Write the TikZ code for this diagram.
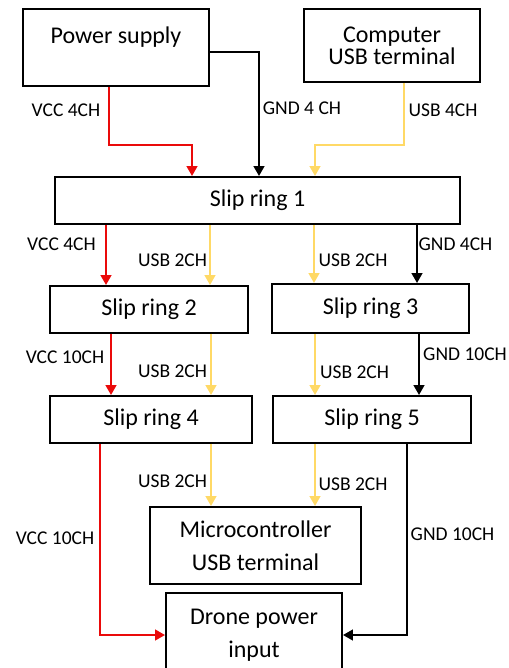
\documentclass[tikz,border=0pt]{standalone}
\usepackage{fontspec}
\setmainfont{Carlito}
\usetikzlibrary{arrows.meta}
\definecolor{vccred}{HTML}{EA0A0A}
\definecolor{usbyel}{HTML}{FFD966}
\tikzset{
  box/.style={draw=black, line width=1.8pt, inner sep=0pt, font=\fontsize{24}{33}\selectfont, align=center},
  lbl/.style={inner sep=0pt, font=\fontsize{19.5}{22}\selectfont},
  conn/.style={line width=2.8pt, -{Triangle[length=10pt,width=10.5pt]}},
  vcc/.style={conn, draw=vccred},
  gnd/.style={conn, draw=black},
  usb/.style={conn, draw=usbyel},
}
\begin{document}
\begin{tikzpicture}[x=1pt,y=-1pt]
\useasboundingbox (0,0) rectangle (508,668);
% boxes
\node[box, minimum width=186pt, minimum height=77pt] (ps) at (116,47.5) {};
\node[lbl, font=\fontsize{24}{33}\selectfont] (pstext) at (116,37) {Power supply};
\node[box, minimum width=176pt, minimum height=73pt, font=\fontsize{24}{22}\selectfont] (cu) at (392,45.5) {Computer\\USB terminal};
\node[box, minimum width=405pt, minimum height=47pt] (sr1) at (257.5,200.5) {Slip ring 1};
\node[box, minimum width=198pt, minimum height=47pt] (sr2) at (149,309.5) {Slip ring 2};
\node[box, minimum width=197pt, minimum height=49pt] (sr3) at (370.5,308.5) {Slip ring 3};
\node[box, minimum width=202pt, minimum height=47pt] (sr4) at (151,419.5) {Slip ring 4};
\node[box, minimum width=198pt, minimum height=47pt] (sr5) at (372,419.5) {Slip ring 5};
\node[box, minimum width=211pt, minimum height=77pt] (mc) at (255.5,545.5) {Microcontroller\\USB terminal};
\node[box, minimum width=176pt, minimum height=84pt] (dr) at (254,635) {};
\node[lbl, font=\fontsize{24}{33}\selectfont, align=center] (drtext) at (254,635.5) {Drone power\\input};
% helper coordinates
\coordinate (c1) at (109,145);
\coordinate (c2) at (192,145);
\coordinate (c3) at (259,52);
\coordinate (c4) at (404,145);
\coordinate (c5) at (315,145);
\coordinate (x1) at (106,0);
\coordinate (x2) at (210,0);
\coordinate (x3) at (314,0);
\coordinate (x4) at (417,0);
\coordinate (x5) at (111,0);
\coordinate (x6) at (211,0);
\coordinate (x7) at (315,0);
\coordinate (x8) at (419,0);
\coordinate (c6) at (100,635);
\coordinate (c7) at (407,635);
% top connectors
\draw[vcc] (ps.south -| c1) -- (c1) -- (c2) -- (c2 |- sr1.north);
\draw[gnd] (ps.east |- c3) -- (c3) -- (c3 |- sr1.north);
\draw[usb] (cu.south -| c4) -- (c4) -- (c5) -- (c5 |- sr1.north);
% slip ring 1 outputs
\draw[vcc] (sr1.south -| x1) -- (sr2.north -| x1);
\draw[usb] (sr1.south -| x2) -- (sr2.north -| x2);
\draw[usb] (sr1.south -| x3) -- (sr3.north -| x3);
\draw[gnd] (sr1.south -| x4) -- (sr3.north -| x4);
% second level
\draw[vcc] (sr2.south -| x5) -- (sr4.north -| x5);
\draw[usb] (sr2.south -| x6) -- (sr4.north -| x6);
\draw[usb] (sr3.south -| x7) -- (sr5.north -| x7);
\draw[gnd] (sr3.south -| x8) -- (sr5.north -| x8);
% bottom
\draw[usb] (sr4.south -| x6) -- (mc.north -| x6);
\draw[usb] (sr5.south -| x7) -- (mc.north -| x7);
\draw[vcc] (sr4.south -| c6) -- (c6) -- (dr.west |- c6);
\draw[gnd] (sr5.south -| c7) -- (c7) -- (dr.east |- c7);
% labels
\node[lbl] (l1) at (66,110) {VCC 4CH};
\node[lbl] (l2) at (302,108) {GND 4 CH};
\node[lbl] (l3) at (443,110) {USB 4CH};
\node[lbl] (l4) at (61.5,244) {VCC 4CH};
\node[lbl] (l5) at (172.5,260) {USB 2CH};
\node[lbl] (l6) at (353,260) {USB 2CH};
\node[lbl] (l7) at (455.5,244) {GND 4CH};
\node[lbl] (l8) at (65,357) {VCC 10CH};
\node[lbl] (l9) at (172.5,371) {USB 2CH};
\node[lbl] (l10) at (354.5,372) {USB 2CH};
\node[lbl] (l11) at (465,354) {GND 10CH};
\node[lbl] (l12) at (172.5,481) {USB 2CH};
\node[lbl] (l13) at (353,484) {USB 2CH};
\node[lbl] (l14) at (55,538) {VCC 10CH};
\node[lbl] (l15) at (452.5,534) {GND 10CH};
\end{tikzpicture}
\end{document}
